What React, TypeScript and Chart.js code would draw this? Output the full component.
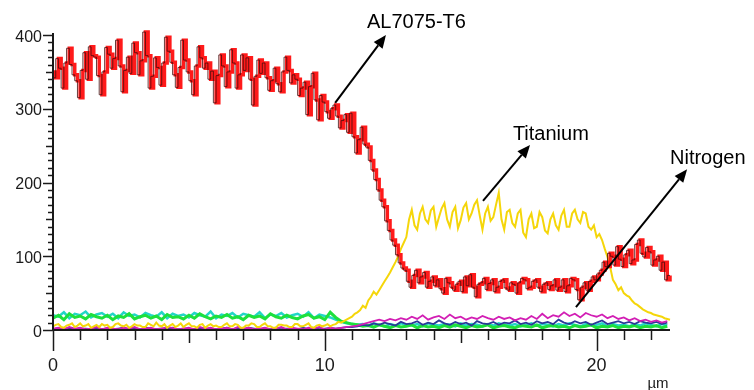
import React, { useEffect, useRef } from "react";
import { Chart, registerables } from "chart.js";

Chart.register(...registerables);

// ---- scan grid & axes ----
const FINE_STEP_UM = 0.1; // Al and Ti profiles
const TRACE_STEP_UM = 0.2; // minor element profiles
const X_MAX_UM = 22.7;
const Y_MAX = 400;
const X_LABEL_TICKS = [0, 10, 20];
const Y_LABEL_TICKS = [0, 100, 200, 300, 400];
const X_UNIT = "µm";

// ---- series (counts) ----
const aluminium = [
  350, 342, 368, 355, 328, 362, 382, 360, 346, 338,
  315, 352, 376, 340, 384, 372, 370, 345, 319, 350,
  383, 374, 355, 368, 393, 358, 323, 352, 370, 348,
  389, 376, 346, 365, 404, 372, 328, 344, 369, 356,
  332, 362, 397, 378, 363, 346, 329, 356, 393, 366,
  350, 338, 319, 358, 384, 369, 355, 362, 340, 351,
  308, 345, 373, 358, 330, 350, 380, 362, 328, 346,
  373, 352, 369, 340, 305, 344, 366, 348, 362, 342,
  325, 338, 355, 334, 323, 350, 370, 352, 335, 346,
  340, 318, 328, 336, 292, 330, 348, 312, 285, 318,
  309, 296, 287, 300, 305, 290, 274, 284, 292, 268,
  294, 262, 240, 258, 275, 252, 248, 230, 217, 204,
  190, 176, 167, 148, 135, 122, 115, 102, 91, 84,
  81, 66, 58, 74, 81, 64, 72, 78, 58, 66,
  72, 60, 68, 56, 50, 70, 64, 58, 54, 62,
  66, 52, 72, 60, 75, 58, 45, 62, 64, 70,
  55, 63, 68, 52, 58, 66, 68, 57, 54, 64,
  62, 50, 64, 70, 68, 56, 58, 66, 68, 58,
  52, 62, 64, 55, 60, 68, 54, 58, 68, 52,
  60, 70, 68, 55, 41, 58, 64, 54, 66, 72,
  68, 76, 81, 92, 86, 104, 100, 88, 113, 96,
  86, 102, 108, 90, 95, 116, 122, 104, 99, 112,
  106, 88, 95, 100, 81, 92, 68, 74,
];

const titanium = [
  5, 7, 8, 4, 3, 6, 7, 9, 4, 6,
  9, 5, 6, 8, 3, 5, 7, 4, 8, 6,
  7, 3, 4, 8, 9, 6, 5, 7, 3, 5,
  8, 6, 6, 4, 4, 9, 7, 5, 10, 6,
  5, 8, 3, 6, 8, 4, 6, 9, 4, 7,
  9, 5, 5, 3, 7, 8, 3, 6, 8, 5,
  6, 4, 4, 7, 9, 5, 5, 8, 7, 3,
  3, 6, 6, 9, 8, 4, 4, 7, 9, 5,
  5, 3, 3, 7, 7, 6, 6, 4, 4, 8,
  8, 5, 5, 7, 9, 4, 3, 6, 7, 5,
  6, 8, 5, 7, 8, 11, 10, 12, 14, 16,
  18, 22, 24, 27, 33, 30, 40, 45, 52, 48,
  54, 60, 66, 72, 78, 85, 92, 100, 110, 118,
  126, 150, 163, 142, 136, 158, 167, 150, 145, 162,
  167, 140, 153, 165, 172, 150, 140, 160, 167, 138,
  149, 166, 172, 150, 158, 170, 176, 155, 136, 158,
  167, 148, 153, 170, 186, 150, 136, 160, 163, 145,
  140, 158, 163, 132, 126, 150, 158, 138, 140, 160,
  153, 135, 131, 150, 158, 142, 136, 155, 163, 140,
  140, 158, 163, 150, 145, 160, 158, 140, 136, 142,
  126, 130, 122, 110, 99, 85, 68, 62, 54, 58,
  50, 47, 45, 40, 36, 34, 31, 28, 26, 24,
  23, 21, 20, 19, 18, 16, 15, 14,
];

const nitrogen = [
  2, 3, 1, 4, 2, 3, 1, 2, 4, 1,
  3, 2, 1, 3, 2, 4, 1, 2, 3, 1,
  2, 4, 3, 1, 2, 3, 1, 4, 2, 3,
  1, 2, 3, 1, 4, 2, 3, 1, 2, 3,
  1, 2, 4, 1, 3, 2, 1, 3, 2, 4,
  1, 3, 2, 3, 4, 5, 6, 8, 10, 12,
  14, 12, 15, 13, 16, 14, 18, 15, 20, 14,
  17, 19, 15, 21, 16, 18, 14, 17, 15, 19,
  16, 14, 18, 15, 17, 13, 16, 14, 19, 15,
  22, 16, 20, 18, 24, 19, 22, 17, 23, 20,
  18, 21, 16, 19, 15, 17, 13, 16, 12, 14,
  11, 13, 10, 12,
];

const greenTrace = [
  16, 20, 14, 22, 17, 19, 15, 21, 18, 16,
  20, 14, 19, 17, 22, 15, 18, 20, 16, 19,
  14, 21, 17, 18, 15, 20, 16, 22, 18, 15,
  19, 17, 21, 16, 18, 14, 20, 17, 19, 15,
  22, 18, 16, 20, 17, 15, 19, 21, 16, 18,
  14, 24, 17, 12, 10, 8, 7, 5, 6, 4,
  7, 5, 3, 6, 4, 5, 7, 3, 6, 4,
  5, 3, 6, 4, 7, 5, 3, 6, 4, 5,
  7, 3, 5, 6, 4, 3, 6, 5, 4, 7,
  3, 5, 6, 4, 5, 3, 6, 4, 5, 7,
  3, 5, 4, 6, 3, 5, 4, 6, 3, 5,
  4, 6, 3, 5,
];

const cyanTrace = [
  20, 18, 24, 16, 22, 20, 25, 17, 21, 23,
  18, 22, 16, 24, 19, 21, 17, 23, 20, 18,
  24, 16, 22, 19, 21, 17, 23, 20, 18, 25,
  16, 21, 19, 23, 17, 22, 20, 18, 24, 16,
  21, 19, 23, 17, 20, 22, 18, 24, 16, 21,
  19, 17, 14, 11, 9, 8, 7, 8, 6, 9,
  7, 5, 8, 6, 9, 7, 6, 8, 5, 9,
  7, 6, 8, 7, 5, 9, 6, 8, 7, 5,
  8, 6, 9, 7, 6, 8, 5, 7, 9, 6,
  8, 7, 5, 8, 6, 9, 7, 5, 8, 6,
  7, 9, 5, 8, 6, 7, 5, 8, 6, 9,
  7, 5, 8, 6,
];

const navyTrace = [
  1, 2, 1, 3, 1, 2, 2, 1, 3, 1,
  2, 1, 2, 3, 1, 2, 1, 3, 2, 1,
  2, 1, 3, 1, 2, 2, 1, 3, 1, 2,
  1, 2, 3, 1, 2, 1, 3, 2, 1, 2,
  1, 3, 1, 2, 2, 1, 3, 1, 2, 1,
  2, 3, 2, 3, 4, 4, 5, 7, 6, 9,
  7, 10, 8, 6, 11, 8, 9, 12, 7, 10,
  8, 13, 9, 7, 11, 8, 10, 6, 12, 9,
  8, 11, 7, 10, 9, 13, 8, 10, 7, 12,
  9, 11, 8, 14, 10, 8, 12, 9, 11, 7,
  10, 13, 8, 10, 12, 9, 11, 8, 12, 10,
  9, 11, 8, 10,
];

// ---- annotations (text anchor and arrow ends in data units) ----
const annotationLabels = ["AL7075-T6", "Titanium", "Nitrogen"];
const annotationTextAt = [
  [11.55, 409.5],
  [16.92, 258.3],
  [22.7, 225],
];
const annotationArrowFrom = [
  [10.38, 308],
  [15.82, 175],
  [19.24, 31],
];
const annotationArrowTo = [
  [12.25, 400],
  [17.55, 251],
  [23.33, 218],
];

const toPoints = (vals: number[], step: number) =>
  vals.map((v, i) => ({ x: Math.round(i * step * 100) / 100, y: v }));

const FONT = '"Liberation Sans", Arial, Helvetica, sans-serif';

const axesPlugin = {
  id: "edsAxes",
  afterDatasetsDraw(chart: any) {
    const { ctx } = chart;
    const xs = chart.scales.x;
    const ys = chart.scales.y;
    const px = (v: number) => xs.getPixelForValue(v);
    const py = (v: number) => ys.getPixelForValue(v);
    ctx.save();
    ctx.strokeStyle = "#1a1a1a";
    ctx.fillStyle = "#1a1a1a";

    const x0 = px(0);
    const y0 = py(0);
    ctx.lineWidth = 2;
    ctx.beginPath();
    ctx.moveTo(x0 - 1, y0);
    ctx.lineTo(px(X_MAX_UM), y0);
    ctx.stroke();
    ctx.beginPath();
    ctx.moveTo(x0, y0 + 1);
    ctx.lineTo(x0, py(Y_MAX) - 2);
    ctx.stroke();

    ctx.lineWidth = 1.5;
    for (let v = 0; v <= X_MAX_UM + 1e-6; v += 1) {
      const len = v % 10 === 0 ? 21 : v % 5 === 0 ? 13 : 10;
      const xx = Math.round(px(v)) + 0.5;
      ctx.beginPath();
      ctx.moveTo(xx, y0);
      ctx.lineTo(xx, y0 + len);
      ctx.stroke();
    }
    for (let v = 0; v <= Y_MAX; v += 10) {
      const len = v % 100 === 0 ? 10 : v % 50 === 0 ? 7 : 5;
      const yy = Math.round(py(v)) + 0.5;
      ctx.beginPath();
      ctx.moveTo(x0, yy);
      ctx.lineTo(x0 - len, yy);
      ctx.stroke();
    }

    ctx.font = `18px ${FONT}`;
    ctx.textAlign = "center";
    ctx.textBaseline = "alphabetic";
    X_LABEL_TICKS.forEach((v) => ctx.fillText(String(v), px(v), y0 + 41));
    ctx.font = `16px ${FONT}`;
    ctx.textAlign = "right";
    Y_LABEL_TICKS.forEach((v) => ctx.fillText(String(v), x0 - 11, py(v) + 6.5));
    ctx.font = `15px ${FONT}`;
    ctx.textAlign = "center";
    ctx.fillText(X_UNIT, px(X_MAX_UM) - 12, y0 + 58);

    ctx.fillStyle = "#000";
    ctx.strokeStyle = "#000";
    ctx.font = `20px ${FONT}`;
    ctx.textAlign = "left";
    annotationLabels.forEach((label, i) => {
      const [tx, ty] = annotationTextAt[i];
      ctx.fillText(label, px(tx), py(ty));
      const [fx, fy] = annotationArrowFrom[i];
      const [hx, hy] = annotationArrowTo[i];
      const ax = px(fx), ay = py(fy), bx = px(hx), by = py(hy);
      const ang = Math.atan2(by - ay, bx - ax);
      const headLen = 13;
      const half = 5.5;
      const bxs = bx - Math.cos(ang) * headLen;
      const bys = by - Math.sin(ang) * headLen;
      ctx.lineWidth = 2;
      ctx.beginPath();
      ctx.moveTo(ax, ay);
      ctx.lineTo(bxs, bys);
      ctx.stroke();
      ctx.beginPath();
      ctx.moveTo(bx, by);
      ctx.lineTo(bxs - Math.sin(ang) * half, bys + Math.cos(ang) * half);
      ctx.lineTo(bxs + Math.sin(ang) * half, bys - Math.cos(ang) * half);
      ctx.closePath();
      ctx.fill();
    });
    ctx.restore();
  },
};

export default function App() {
  const canvasRef = useRef<HTMLCanvasElement | null>(null);

  useEffect(() => {
    const canvas = canvasRef.current;
    if (!canvas) return;
    const line = (data: number[], step: number, color: string, width: number, stepped: any = false) => ({
      data: toPoints(data, step),
      borderColor: color,
      backgroundColor: color,
      borderWidth: width,
      pointRadius: 0,
      fill: false,
      tension: 0,
      stepped,
      clip: 10,
    });
    const chart = new Chart(canvas, {
      type: "line",
      data: {
        datasets: [
          { label: "AL7075-T6 outline", ...line(aluminium, FINE_STEP_UM, "rgba(70,12,12,0.9)", 0.9, "after") },
          { label: "AL7075-T6", ...line(aluminium, FINE_STEP_UM, "#ff1a1a", 3.5, "before") },
          { label: "Titanium", ...line(titanium, FINE_STEP_UM, "#f5d60a", 2) },
          { label: "Nitrogen", ...line(nitrogen, TRACE_STEP_UM, "#d21eb4", 1.8) },
          { label: "trace-navy", ...line(navyTrace, TRACE_STEP_UM, "#2a3a98", 1.8) },
          { label: "trace-green", ...line(greenTrace, TRACE_STEP_UM, "#1ee03c", 3) },
          { label: "trace-cyan", ...line(cyanTrace, TRACE_STEP_UM, "#22d6c6", 2.5) },
        ],
      },
      options: {
        animation: false,
        responsive: false,
        devicePixelRatio: 1,
        layout: { padding: { left: 53, right: 84, top: 35, bottom: 60 } },
        plugins: { legend: { display: false }, tooltip: { enabled: false } },
        scales: {
          x: { type: "linear", min: 0, max: X_MAX_UM, display: false },
          y: { type: "linear", min: 0, max: Y_MAX, display: false },
        },
      },
      plugins: [axesPlugin],
    });
    return () => chart.destroy();
  }, []);

  return (
    <div style={{ position: "fixed", left: 0, top: 0, width: 754, height: 390, background: "#fff" }}>
      <canvas ref={canvasRef} width={754} height={390} style={{ display: "block" }} />
    </div>
  );
}
